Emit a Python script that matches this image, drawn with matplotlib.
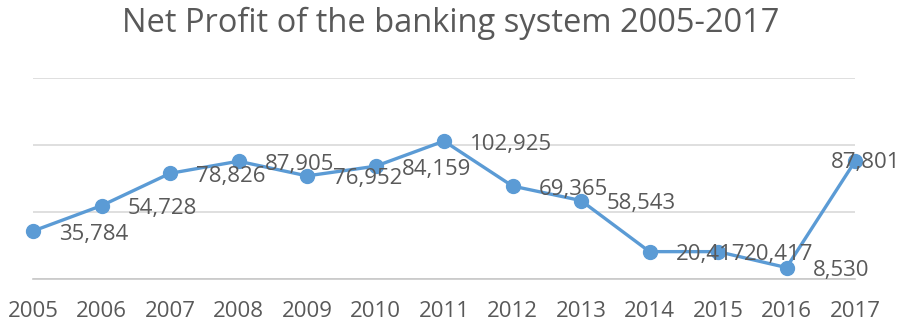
import numpy as np
import matplotlib
matplotlib.use("Agg")
import matplotlib.pyplot as plt

years = ["2005", "2006", "2007", "2008", "2009", "2010", "2011",
         "2012", "2013", "2014", "2015", "2016", "2017"]
profit = [35784, 54728, 78826, 87905, 76952, 84159, 102925,
          69365, 58543, 20417, 20417, 8530, 87801]

plt.rcParams['font.family'] = ['Open Sans', 'DejaVu Sans']
grey = '#595959'
blue = '#5B9BD5'

fig = plt.figure(figsize=(9.02, 3.27), dpi=100)
ax = fig.add_axes([33/902, 1 - 279/327, (855 - 33)/902, (279 - 78)/327])

x = np.arange(len(years))
ax.plot(x, profit, color=blue, lw=2.4, marker='o', ms=10, clip_on=False, zorder=3)

# data labels to the right of each point (last one pushed inside)
for i, v in enumerate(profit):
    if i == len(profit) - 1:
        ax.annotate(f'{v:,}', (x[i], v), xytext=(45, -1), textcoords='offset pixels',
                    ha='right', va='center', fontsize=16, color=grey, zorder=4)
    else:
        ax.annotate(f'{v:,}', (x[i], v), xytext=(26, -3), textcoords='offset pixels',
                    ha='left', va='center', fontsize=16, color=grey, zorder=4)

ax.set_xlim(0, len(years) - 1)
ax.set_ylim(0, 150000)
ax.set_yticks([0, 50000, 100000, 150000])
ax.yaxis.grid(True, color='#D9D9D9', lw=1.2)
ax.set_axisbelow(True)
ax.set_yticklabels([])
ax.tick_params(axis='y', length=0)
ax.set_xticks(x)
ax.set_xticklabels(years, fontsize=16, color=grey)
ax.tick_params(axis='x', length=0, pad=16)
for s in ['top', 'left', 'right']:
    ax.spines[s].set_visible(False)
ax.spines['bottom'].set_color('#C8C8C8')
ax.spines['bottom'].set_linewidth(1.2)

fig.text(0.5, 1 - 23/327, 'Net Profit of the banking system 2005-2017',
         ha='center', va='center', fontsize=23.5, color=grey)

fig.savefig('out.png', dpi=100)
